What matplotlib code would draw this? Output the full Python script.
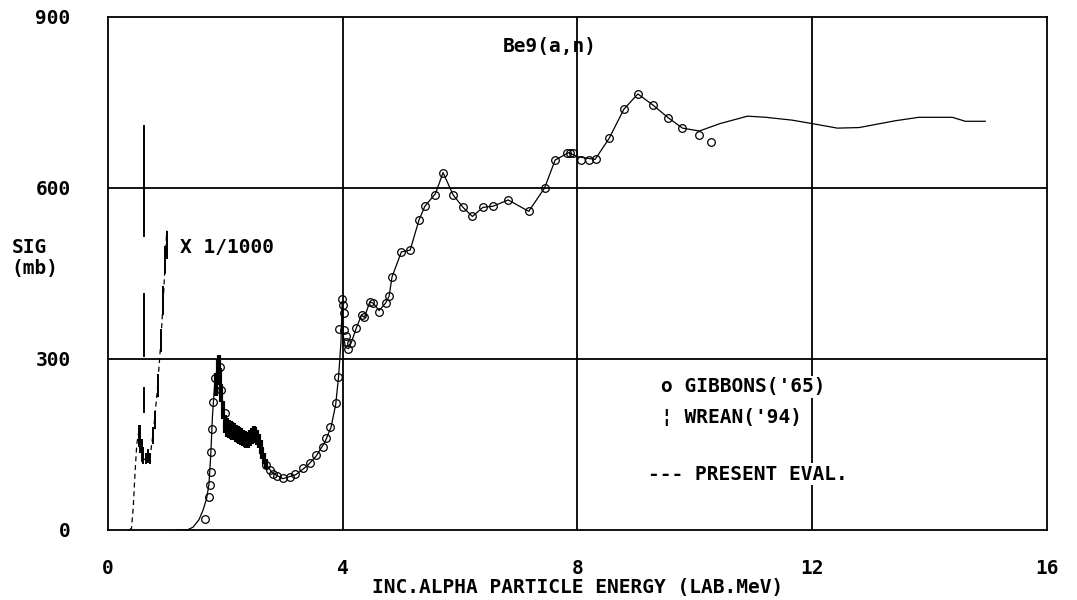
"""
Be9(a,n) cross section: evaluation compared with Gibbons ('65) and Wrean ('94).
"""

import matplotlib.pyplot as plt

# present evaluation, plotted as is (mb)
eval_e = [1.15, 1.35, 1.45, 1.55, 1.62, 1.68, 1.72, 1.75, 1.78, 1.82, 1.87, 1.90,
          1.93, 1.97, 2.05, 2.20, 2.35, 2.50, 2.60, 2.70, 2.80, 2.98, 3.20, 3.40,
          3.55, 3.70, 3.80, 3.88, 3.93, 3.97, 3.99, 4.01, 4.05, 4.10, 4.15, 4.23,
          4.32, 4.37, 4.46, 4.52, 4.62, 4.73, 4.79, 4.84, 5.00, 5.15, 5.30, 5.40,
          5.58, 5.71, 5.88, 6.05, 6.21, 6.39, 6.56, 6.82, 7.17, 7.44, 7.62, 7.85,
          8.00, 8.30, 8.54, 8.79, 9.03, 9.28, 9.55, 9.79, 10.08, 10.43, 10.90,
          11.21, 11.66, 12.00, 12.43, 12.80, 13.42, 13.82, 14.39, 14.61, 14.95]
eval_s = [0, 0, 5, 18, 35, 55, 80, 130, 200, 260, 290, 295,
          250, 205, 180, 168, 158, 165, 150, 115, 100, 90, 97, 113,
          130, 155, 180, 220, 270, 330, 400, 340, 320, 318, 330, 354,
          377, 373, 400, 398, 385, 398, 410, 444, 488, 491, 544, 568,
          590, 627, 588, 566, 550, 566, 568, 579, 559, 600, 649, 662,
          655, 650, 687, 738, 765, 746, 723, 705, 700, 713, 726,
          724, 719, 713, 705, 706, 718, 724, 724, 717, 717]

# low energy part of the evaluation, scaled by 1/1000
eval_k_e = [0.36, 0.40, 0.43, 0.46, 0.49, 0.52, 0.56, 0.60, 0.66, 0.72, 0.78,
            0.84, 0.90, 0.95, 1.00]
eval_k_s = [0, 3, 40, 100, 150, 170, 150, 125, 122, 130, 180, 245, 330, 420, 525]

# Gibbons ('65)
gib_e = [1.65, 1.72, 1.74, 1.75, 1.76, 1.77, 1.79, 1.83, 1.90, 1.92, 2.00, 2.70,
         2.76, 2.81, 2.88, 2.98, 3.10, 3.18, 3.32, 3.44, 3.55, 3.66, 3.72, 3.79,
         3.88, 3.92, 3.94, 3.98, 4.00, 4.02, 4.03, 4.05, 4.06, 4.09, 4.14, 4.23,
         4.32, 4.37, 4.46, 4.52, 4.62, 4.73, 4.79, 4.84, 5.00, 5.15, 5.30, 5.40,
         5.58, 5.71, 5.88, 6.05, 6.21, 6.39, 6.56, 6.82, 7.17, 7.44, 7.62, 7.82,
         7.87, 7.92, 8.06, 8.19, 8.32, 8.54, 8.79, 9.03, 9.28, 9.55, 9.79, 10.08,
         10.27]
gib_s = [20, 58, 79, 102, 137, 178, 225, 266, 286, 245, 205, 114,
         105, 99, 95, 91, 93, 99, 108, 117, 132, 146, 161, 181,
         222, 269, 352, 406, 395, 350, 380, 340, 330, 317, 328, 354,
         377, 373, 400, 398, 383, 398, 410, 444, 488, 491, 544, 568,
         588, 627, 588, 566, 550, 566, 568, 579, 559, 600, 649, 662,
         662, 662, 649, 649, 650, 687, 738, 765, 746, 723, 705, 693,
         680]

# Wrean ('94), plotted as is
wre_e = [1.84, 1.87, 1.89, 1.91, 1.93, 1.96, 2.00, 2.03, 2.06, 2.09, 2.12, 2.15,
         2.18, 2.21, 2.24, 2.27, 2.30, 2.33, 2.36, 2.39, 2.42, 2.45, 2.48, 2.51,
         2.54, 2.57, 2.60, 2.63, 2.66, 2.69]
wre_s = [255, 285, 295, 270, 240, 210, 186, 180, 177, 176, 174, 172,
         170, 168, 166, 164, 162, 160, 158, 158, 161, 165, 168, 166,
         162, 156, 146, 135, 125, 116]
wre_err = [20, 15, 12, 15, 16, 16, 16, 16, 16, 16, 16, 15,
           15, 15, 15, 15, 14, 14, 14, 14, 14, 14, 14, 14,
           13, 13, 12, 11, 10, 9]

# Wrean ('94), scaled by 1/1000
wre_k_e = [0.52, 0.55, 0.58, 0.60, 0.62, 0.62, 0.62, 0.65, 0.68, 0.71, 0.76,
           0.80, 0.85, 0.90, 0.94, 0.97, 1.00]
wre_k_s = [165, 160, 140, 130, 228, 359, 612, 125, 130, 125, 165,
           193, 254, 333, 403, 474, 500]
wre_k_err = [20, 25, 20, 15, 22, 56, 98, 10, 12, 10, 15,
             15, 20, 20, 25, 25, 25]

x_ticks = [0, 4, 8, 12, 16]
y_ticks = [0, 300, 600, 900]

FONT = dict(family="DejaVu Sans Mono", weight="bold", size=14)


def main() -> None:
    fig = plt.figure(figsize=(10.77, 6.0), dpi=100)
    ax = fig.add_axes([0.1003, 0.1167, 0.8717, 0.855])

    ax.set_xlim(0, 16)
    ax.set_ylim(0, 900)

    # grid at the inner ticks only
    for xv in x_ticks[1:-1]:
        ax.axvline(xv, color="black", linewidth=1.3, zorder=1)
    for yv in y_ticks[1:-1]:
        ax.axhline(yv, color="black", linewidth=1.3, zorder=1)

    # evaluation
    ax.plot(eval_e, eval_s, color="black", linewidth=0.9, zorder=3)
    ax.plot(eval_k_e, eval_k_s, color="black", linewidth=0.9,
            linestyle=(0, (4, 3)), zorder=3)

    # Wrean data as error bars
    ax.errorbar(wre_e, wre_s, yerr=wre_err, fmt="none", ecolor="black",
                elinewidth=3.0, capsize=0, zorder=4)
    ax.errorbar(wre_k_e, wre_k_s, yerr=wre_k_err, fmt="none", ecolor="black",
                elinewidth=1.4, capsize=0, zorder=4)

    # Gibbons data as open circles
    ax.plot(gib_e, gib_s, linestyle="none", marker="o", markersize=5.5,
            markerfacecolor="none", markeredgecolor="black",
            markeredgewidth=0.9, zorder=5)

    for side in ax.spines.values():
        side.set_linewidth(1.3)

    ax.set_xticks(x_ticks)
    ax.set_yticks(y_ticks)
    ax.set_xticklabels([str(v) for v in x_ticks], **FONT)
    ax.set_yticklabels([str(v) for v in y_ticks], **FONT)
    ax.tick_params(axis="x", length=0, pad=21)
    ax.tick_params(axis="y", length=0, pad=27)

    ax.set_xlabel("INC.ALPHA PARTICLE ENERGY (LAB.MeV)", labelpad=0, **FONT)
    fig.text(0.011, 0.57, "SIG\n(mb)", ha="left", va="center",
             linespacing=1.1, **FONT)

    ax.text(6.72, 848, "Be9(a,n)", ha="left", va="center", **FONT)
    ax.text(1.22, 495, "X 1/1000", ha="left", va="center", **FONT)

    box = dict(facecolor="white", edgecolor="none", pad=1)
    ax.text(9.42, 251, "o GIBBONS('65)", ha="left", va="center",
            bbox=box, zorder=6, **FONT)
    ax.text(9.42, 198, "¦ WREAN('94)", ha="left", va="center",
            bbox=box, zorder=6, **FONT)
    ax.text(9.2, 98, "--- PRESENT EVAL.", ha="left", va="center",
            bbox=box, zorder=6, **FONT)

    fig.savefig("out.png", dpi=100)


if __name__ == "__main__":
    main()
